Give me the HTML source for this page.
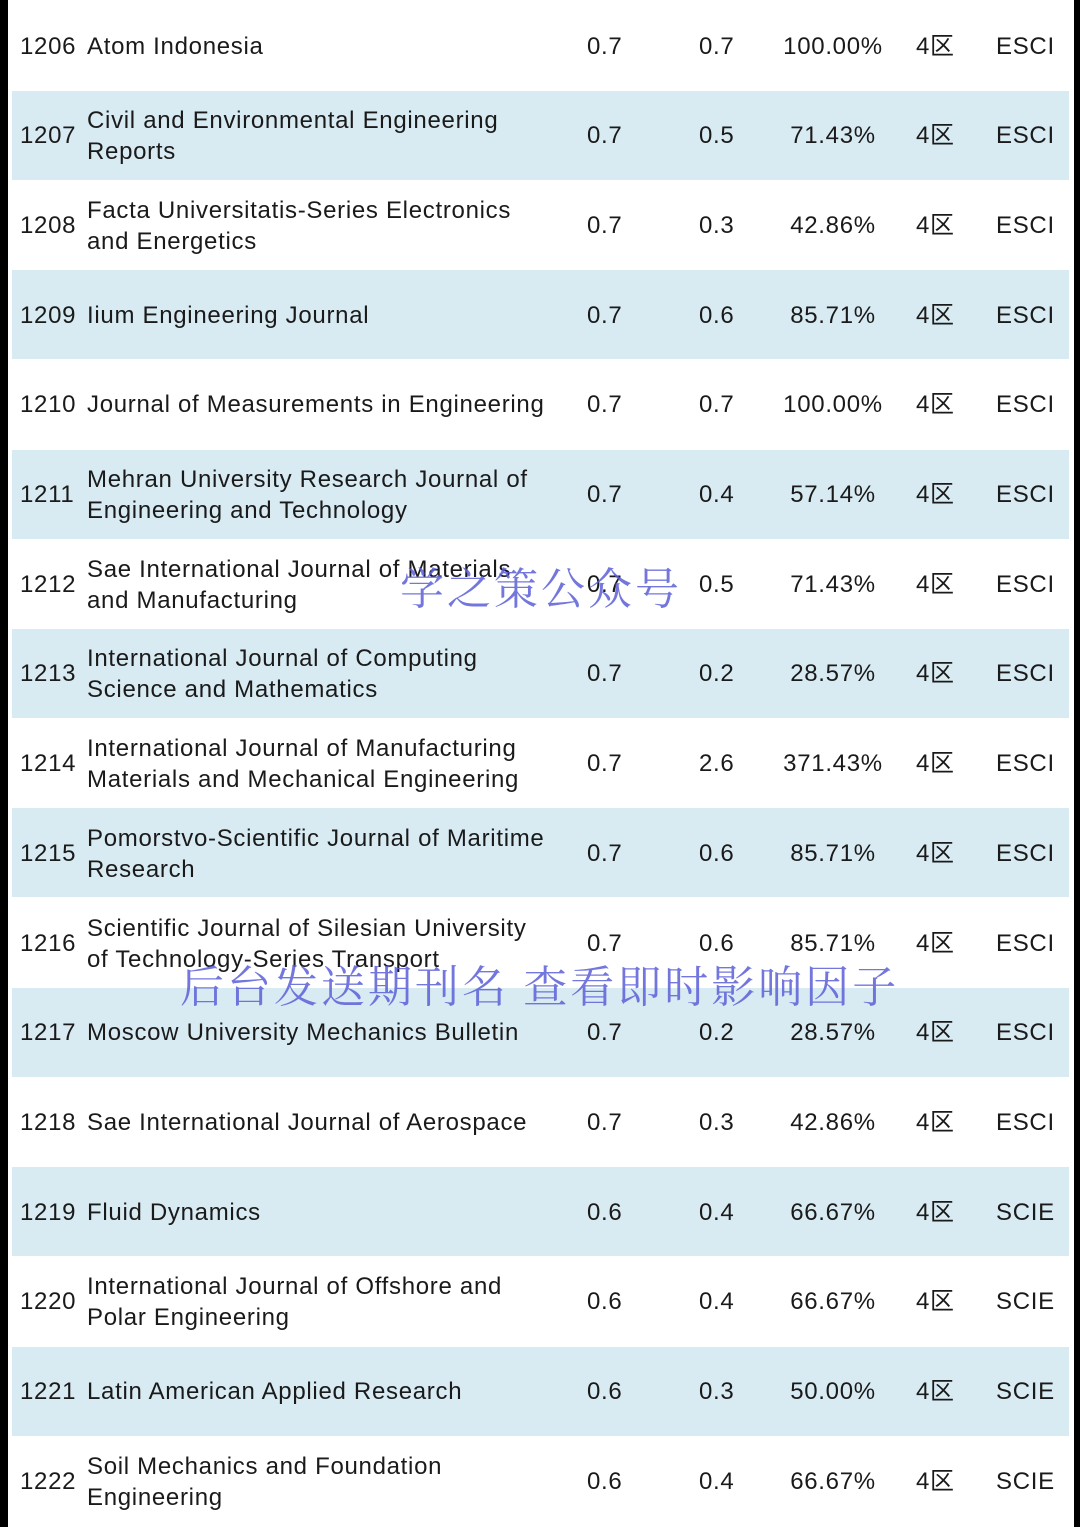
<!DOCTYPE html>
<html><head><meta charset="utf-8">
<style>
html,body{margin:0;padding:0}
body{width:1080px;height:1527px;position:relative;background:#fff;overflow:hidden;font-family:"Liberation Sans","Noto Sans CJK SC",sans-serif;color:#1a1a1a}
.bl{position:absolute;left:0;top:0;width:8px;height:1527px;background:#000}
.br{position:absolute;right:0;top:0;width:6px;height:1527px;background:#000}
.row{position:absolute;left:12px;width:1057px;height:89px}
.row.c{background:#d8eaf2}
.t{position:absolute;font-size:24px;line-height:31px;white-space:nowrap;letter-spacing:0.7px}
.wm{position:absolute;font-family:"Noto Serif CJK SC","WenQuanYi Zen Hei",serif;color:rgba(90,95,215,0.85);font-size:44px;white-space:nowrap;line-height:50px;letter-spacing:3px}
</style></head>
<body>
<div class="bl"></div>
<div class="br"></div>
<div id="tbl"></div>
<div class="wm" style="left:400px;top:560px">学之策公众号</div>
<div class="wm" style="left:180px;top:958px">后台发送期刊名 查看即时影响因子</div>
<script>
const ranks=[1206,1207,1208,1209,1210,1211,1212,1213,1214,1215,1216,1217,1218,1219,1220,1221,1222];
const titles=[["Atom Indonesia"],["Civil and Environmental Engineering","Reports"],["Facta Universitatis-Series Electronics","and Energetics"],["Iium Engineering Journal"],["Journal of Measurements in Engineering"],["Mehran University Research Journal of","Engineering and Technology"],["Sae International Journal of Materials","and Manufacturing"],["International Journal of Computing","Science and Mathematics"],["International Journal of Manufacturing","Materials and Mechanical Engineering"],["Pomorstvo-Scientific Journal of Maritime","Research"],["Scientific Journal of Silesian University","of Technology-Series Transport"],["Moscow University Mechanics Bulletin"],["Sae International Journal of Aerospace"],["Fluid Dynamics"],["International Journal of Offshore and","Polar Engineering"],["Latin American Applied Research"],["Soil Mechanics and Foundation","Engineering"]];
const ifA=["0.7","0.7","0.7","0.7","0.7","0.7","0.7","0.7","0.7","0.7","0.7","0.7","0.7","0.6","0.6","0.6","0.6"];
const ifB=["0.7","0.5","0.3","0.6","0.7","0.4","0.5","0.2","2.6","0.6","0.6","0.2","0.3","0.4","0.4","0.3","0.4"];
const pct=["100.00%","71.43%","42.86%","85.71%","100.00%","57.14%","71.43%","28.57%","371.43%","85.71%","85.71%","28.57%","42.86%","66.67%","66.67%","50.00%","66.67%"];
const zone=["4区","4区","4区","4区","4区","4区","4区","4区","4区","4区","4区","4区","4区","4区","4区","4区","4区"];
const idx=["ESCI","ESCI","ESCI","ESCI","ESCI","ESCI","ESCI","ESCI","ESCI","ESCI","ESCI","ESCI","ESCI","SCIE","SCIE","SCIE","SCIE"];
const tbl=document.getElementById('tbl');
const RH=89.7;
function txt(parent,s,x,cy,extra){
  const d=document.createElement('div');
  d.className='t';d.textContent=s;
  d.style.left=x+'px';d.style.top=(cy-15.5)+'px';
  if(extra)Object.assign(d.style,extra);
  parent.appendChild(d);return d;
}
ranks.forEach((r,i)=>{
  const top=i*RH+1;
  const row=document.createElement('div');
  row.className='row'+(i%2?' c':'');
  row.style.top=top+'px';
  
  
  tbl.appendChild(row);
  const cy=45;
  let e=txt(row,String(r),8,cy);
  
  
  const tl=titles[i];
  if(tl.length===1){e=txt(row,tl[0],75,cy);}
  else{e=txt(row,tl[0],75,cy-15);const e2=txt(row,tl[1],75,cy+16);
    
    }
  
  
  e=txt(row,ifA[i],575,cy);
  
  
  e=txt(row,ifB[i],687,cy);
  
  
  e=txt(row,pct[i],741,cy,{width:'160px',textAlign:'center'});
  
  
  e=txt(row,zone[i],904,cy);
  
  
  e=txt(row,idx[i],984,cy);
  
  
});
</script>
</body></html>
